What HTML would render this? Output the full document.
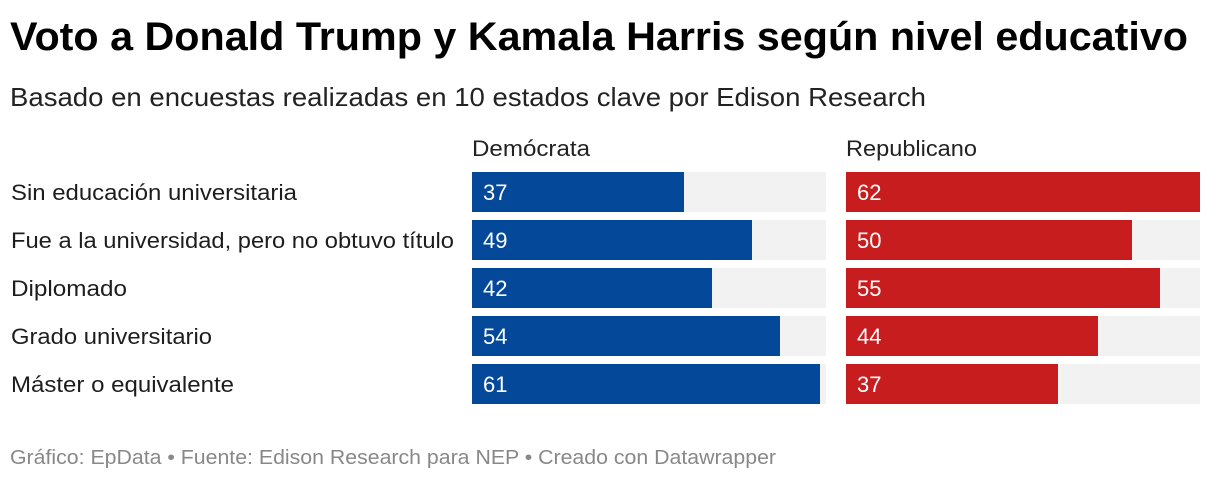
<!DOCTYPE html>
<html>
<head>
<meta charset="utf-8">
<style>
html,body{margin:0;padding:0;background:#fff;}
svg{display:block;}
text{font-family:"Liberation Sans",Arial,sans-serif;}
</style>
</head>
<body>
<svg width="1220" height="480" viewBox="0 0 1220 480" xmlns="http://www.w3.org/2000/svg">
  <rect width="1220" height="480" fill="#fff"/>
  <text x="10" y="50" font-size="40" font-weight="bold" fill="#000" textLength="1178" lengthAdjust="spacingAndGlyphs">Voto a Donald Trump y Kamala Harris según nivel educativo</text>
  <text x="10" y="106" font-size="26" fill="#222" textLength="916" lengthAdjust="spacingAndGlyphs">Basado en encuestas realizadas en 10 estados clave por Edison Research</text>

  <text x="472" y="156" font-size="22" fill="#222" textLength="118" lengthAdjust="spacingAndGlyphs">Demócrata</text>
  <text x="846" y="156" font-size="22" fill="#222" textLength="131" lengthAdjust="spacingAndGlyphs">Republicano</text>

  <!-- backgrounds -->
  <g fill="#f2f2f2">
    <rect x="472" y="172" width="354" height="40"/>
    <rect x="846" y="172" width="354" height="40"/>
    <rect x="472" y="220" width="354" height="40"/>
    <rect x="846" y="220" width="354" height="40"/>
    <rect x="472" y="268" width="354" height="40"/>
    <rect x="846" y="268" width="354" height="40"/>
    <rect x="472" y="316" width="354" height="40"/>
    <rect x="846" y="316" width="354" height="40"/>
    <rect x="472" y="364" width="354" height="40"/>
    <rect x="846" y="364" width="354" height="40"/>
  </g>
  <!-- dem bars -->
  <g fill="#04489a">
    <rect x="472" y="172" width="212" height="40"/>
    <rect x="472" y="220" width="280" height="40"/>
    <rect x="472" y="268" width="240" height="40"/>
    <rect x="472" y="316" width="308" height="40"/>
    <rect x="472" y="364" width="348" height="40"/>
  </g>
  <!-- rep bars -->
  <g fill="#c81d1f">
    <rect x="846" y="172" width="354" height="40"/>
    <rect x="846" y="220" width="286" height="40"/>
    <rect x="846" y="268" width="314" height="40"/>
    <rect x="846" y="316" width="252" height="40"/>
    <rect x="846" y="364" width="212" height="40"/>
  </g>

  <!-- row labels -->
  <g font-size="22" fill="#1d1d1d">
    <text x="11" y="200" textLength="286" lengthAdjust="spacingAndGlyphs">Sin educación universitaria</text>
    <text x="11" y="248" textLength="443" lengthAdjust="spacingAndGlyphs">Fue a la universidad, pero no obtuvo título</text>
    <text x="11" y="296" textLength="116" lengthAdjust="spacingAndGlyphs">Diplomado</text>
    <text x="11" y="344" textLength="201" lengthAdjust="spacingAndGlyphs">Grado universitario</text>
    <text x="11" y="392" textLength="223" lengthAdjust="spacingAndGlyphs">Máster o equivalente</text>
  </g>

  <!-- values -->
  <g font-size="22" fill="#fff">
    <text x="483" y="200">37</text>
    <text x="483" y="248">49</text>
    <text x="483" y="296">42</text>
    <text x="483" y="344">54</text>
    <text x="483" y="392">61</text>
    <text x="857" y="200">62</text>
    <text x="857" y="248">50</text>
    <text x="857" y="296">55</text>
    <text x="857" y="344">44</text>
    <text x="857" y="392">37</text>
  </g>

  <text x="10" y="464" font-size="20" fill="#888" textLength="766" lengthAdjust="spacingAndGlyphs">Gráfico: EpData • Fuente: Edison Research para NEP • Creado con Datawrapper</text>
</svg>
</body>
</html>
